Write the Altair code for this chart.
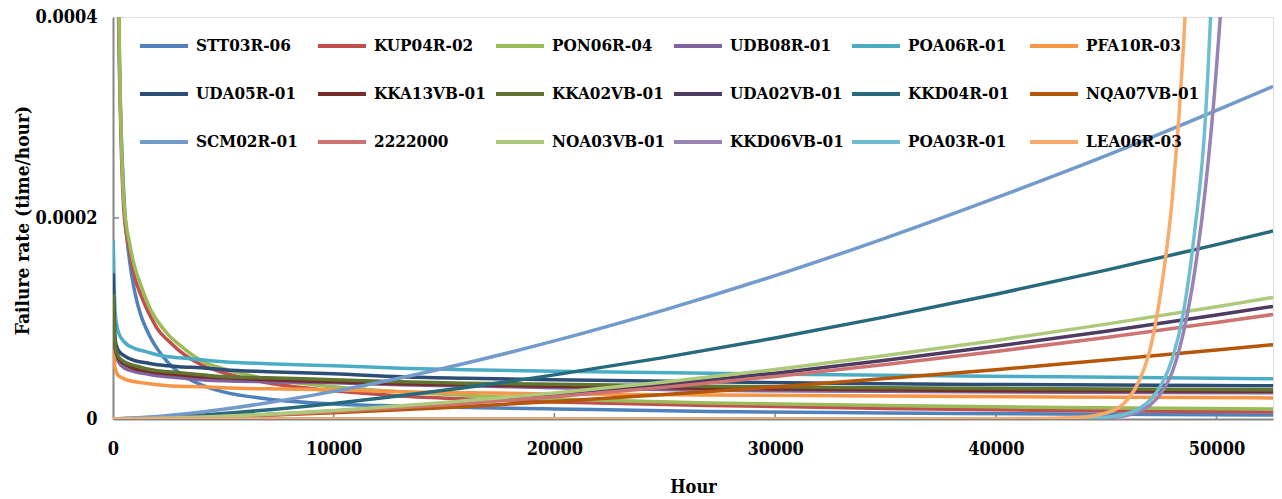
import altair as alt
import pandas as pd

# ---- data (failure rates, in units of 1e-6 per hour) ----
RATE_UNIT = 1e-6

NAMES = ["STT03R-06", "KUP04R-02", "PON06R-04", "UDB08R-01", "POA06R-01", "PFA10R-03",
         "UDA05R-01", "KKA13VB-01", "KKA02VB-01", "UDA02VB-01", "KKD04R-01", "NQA07VB-01",
         "SCM02R-01", "2222000", "NOA03VB-01", "KKD06VB-01", "POA03R-01", "LEA06R-03"]
COLORS = ["#4F81BD", "#C0504D", "#9BBB59", "#8064A2", "#4BACC6", "#F79646",
          "#2C4D75", "#772C2A", "#5F7530", "#4D3B62", "#276A7C", "#B65708",
          "#729ACA", "#CD7371", "#AFC97A", "#9983B5", "#6FBDD1", "#F9AB6B"]

# steeply decreasing curves (very high at start)
HOURS_EARLY = [10, 100, 250, 500, 750, 1000, 1250, 1500, 1750, 2000, 2500, 3000, 4000, 5000,
               7000, 10000, 13000, 16000, 20000, 27000, 35000, 43000, 52560]
STT03R_06 = [3000, 900, 400, 220, 158, 125, 104, 90, 79, 70, 56, 46, 34, 27,
             20, 15, 13, 11.5, 10, 7.5, 6, 5, 4]
KUP04R_02 = [3200, 900, 420, 205, 168, 140, 124, 111, 100, 90, 78, 68, 54, 46,
             36, 28, 23, 20, 17, 13.5, 10.5, 8.5, 7]
PON06R_04 = [3500, 950, 430, 215, 175, 150, 134, 119, 107, 98, 84, 74, 58, 50,
             40, 32, 27, 23.5, 20, 16, 13.5, 11.5, 10]

# gently decreasing curves
HOURS_DEC = [10, 100, 250, 500, 1000, 1500, 2000, 2500, 3000, 4000, 5000, 7000,
             10000, 13000, 16000, 20000, 27000, 35000, 43000, 52560]
UDB08R_01 = [115, 66, 57, 51, 47, 45, 43, 42, 41, 39, 38, 37, 36, 34, 33, 31, 28.5, 27.5, 26.5, 26]
POA06R_01 = [178, 105, 86, 77, 70, 67, 64, 62, 61, 59, 57, 55, 53, 50.5, 49, 47.5, 45.5, 43.5, 42, 40]
PFA10R_03 = [76, 50, 43, 40, 37, 35.5, 34, 33, 32.5, 32, 31, 30, 29, 27, 26, 25, 24, 23, 22, 21]
UDA05R_01 = [145, 78, 68, 63, 58, 56, 54, 53, 52, 51, 49, 47, 45, 42, 40.5, 39, 37, 35, 34, 33]
KKA13VB_01 = [120, 70, 60, 55, 50, 48, 46, 45, 44, 42, 41, 39, 37, 35, 34, 32.5, 30.5, 29, 28, 27.5]
KKA02VB_01 = [124, 72, 62, 57, 53, 50, 48, 47, 46, 44, 42, 41, 39, 37, 35.5, 34.5, 32.5, 31, 30, 29]

# increasing (wear-out) curves
HOURS_INC = [0, 2000, 5000, 10000, 15000, 20000, 25000, 30000, 35000, 40000, 45000, 50000, 52560]
SCM02R_01 = [0, 2.5, 9.7, 27.5, 50.5, 77.7, 108.6, 142.7, 180, 220, 262, 307, 331]
KKD04R_01 = [0, 1.4, 5.5, 15.5, 28.5, 43.9, 61.3, 80.6, 101.6, 124.2, 148.1, 173.5, 187]
NOA03VB_01 = [0, 0.65, 2.8, 8.5, 16.3, 25.8, 36.8, 49.3, 63.1, 78.2, 94.4, 111.7, 121]
UDA02VB_01 = [0, 0.6, 2.6, 7.9, 15.1, 23.9, 34.1, 45.6, 58.4, 72.4, 87.4, 103.4, 112]
S2222000 = [0, 0.56, 2.4, 7.3, 14.0, 22.2, 31.6, 42.4, 54.3, 67.2, 81.2, 96.0, 104]
NQA07VB_01 = [0, 0.55, 2.2, 6.1, 11.3, 17.4, 24.3, 31.9, 40.2, 49.1, 58.6, 68.7, 74]

# very steep late wear-out curves
HOURS_STEEP = [0, 20000, 35000, 40000, 42000, 43000, 44000, 45000, 46000, 46500, 47000,
               47500, 48000, 48500, 49000, 49500, 50000, 50500, 51000]
LEA06R_03 = [0, 0, 0.01, 0.2, 0.6, 1.1, 2, 6, 20, 38, 70, 130, 220, 370, 620, 1000, 1600, 2500, 4000]
POA03R_01 = [0, 0, 0, 0.05, 0.2, 0.3, 0.5, 1.7, 5.7, 10.5, 19, 34, 60, 106, 185, 300, 560, 1000, 1700]
KKD06VB_01 = [0, 0, 0, 0.03, 0.1, 0.2, 0.35, 1.2, 4, 7.5, 14, 26, 47, 86, 145, 230, 350, 530, 900]

X_TICKS = [0, 10000, 20000, 30000, 40000, 50000]
Y_TICKS = [0, 0.0002, 0.0004]
X_MAX = 52560
Y_MAX = 0.0004

SERIES = {
    "STT03R-06": (HOURS_EARLY, STT03R_06), "KUP04R-02": (HOURS_EARLY, KUP04R_02),
    "PON06R-04": (HOURS_EARLY, PON06R_04), "UDB08R-01": (HOURS_DEC, UDB08R_01),
    "POA06R-01": (HOURS_DEC, POA06R_01), "PFA10R-03": (HOURS_DEC, PFA10R_03),
    "UDA05R-01": (HOURS_DEC, UDA05R_01), "KKA13VB-01": (HOURS_DEC, KKA13VB_01),
    "KKA02VB-01": (HOURS_DEC, KKA02VB_01), "UDA02VB-01": (HOURS_INC, UDA02VB_01),
    "KKD04R-01": (HOURS_INC, KKD04R_01), "NQA07VB-01": (HOURS_INC, NQA07VB_01),
    "SCM02R-01": (HOURS_INC, SCM02R_01), "2222000": (HOURS_INC, S2222000),
    "NOA03VB-01": (HOURS_INC, NOA03VB_01), "KKD06VB-01": (HOURS_STEEP, KKD06VB_01),
    "POA03R-01": (HOURS_STEEP, POA03R_01), "LEA06R-03": (HOURS_STEEP, LEA06R_03),
}

rows = []
for order, name in enumerate(NAMES):
    hours, vals = SERIES[name]
    for h, v in zip(hours, vals):
        rows.append({"Hour": h, "Rate": v * RATE_UNIT, "Series": name, "k": order})
df = pd.DataFrame(rows)

FONT = "DejaVu Serif Condensed"
AXIS_GRAY = "#868686"

W, H = 1160, 402

x_scale = alt.Scale(domain=[0, X_MAX], nice=False, zero=True)
y_scale = alt.Scale(domain=[0, Y_MAX], nice=False)

lines = alt.Chart(df).mark_line(strokeWidth=3.5, clip=True, interpolate="monotone").encode(
    x=alt.X("Hour:Q", scale=x_scale,
            axis=alt.Axis(values=X_TICKS, format="d", labelFlush=False, ticks=False,
                          grid=False, domainColor=AXIS_GRAY, domainWidth=2,
                          labelFont=FONT, labelFontSize=18, labelFontWeight="bold",
                          labelColor="black", labelPadding=21,
                          title="Hour", titleFont=FONT, titleFontSize=18,
                          titleFontWeight="bold", titleColor="black",
                          titleY=68, titleBaseline="middle")),
    y=alt.Y("Rate:Q", scale=y_scale,
            axis=alt.Axis(values=Y_TICKS, labelExpr="datum.value == 0 ? '0' : format(datum.value, '.4f')",
                          ticks=False, grid=False, domainColor=AXIS_GRAY, domainWidth=2,
                          labelFont=FONT, labelFontSize=18, labelFontWeight="bold",
                          labelColor="black", labelPadding=16, labelFlush=False,
                          title="Failure rate (time/hour)", titleFont=FONT, titleFontSize=19,
                          titleFontWeight="bold", titleColor="black",
                          titleX=-91, titleY=203, titleBaseline="middle")),
    color=alt.Color("Series:N", sort=NAMES,
                    scale=alt.Scale(domain=NAMES, range=COLORS),
                    legend=alt.Legend(orient="none", legendX=25, legendY=3,
                                      direction="horizontal", columns=6, title=None,
                                      symbolType="stroke", symbolSize=2304,
                                      symbolStrokeWidth=4, labelFont=FONT,
                                      labelFontSize=17, labelFontWeight="bold",
                                      labelColor="black", labelOffset=6,
                                      columnPadding=0, rowPadding=14, padding=0,
                                      gridAlign="all", labelLimit=300)),
    order=alt.Order("Hour:Q"),
)

xt = pd.DataFrame({"t": X_TICKS[1:]})
yt = pd.DataFrame({"t": Y_TICKS[1:2]})
xticks = alt.Chart(xt).mark_rule(color=AXIS_GRAY, strokeWidth=1.5).encode(
    x=alt.X("t:Q", scale=x_scale), y=alt.value(H - 6), y2=alt.value(H))
yticks = alt.Chart(yt).mark_rule(color=AXIS_GRAY, strokeWidth=1.5).encode(
    y=alt.Y("t:Q", scale=y_scale), x=alt.value(0), x2=alt.value(6))

chart = alt.layer(xticks, yticks, lines).properties(
    width=W, height=H,
    autosize=alt.AutoSizeParams(type="none"),
    padding={"left": 113, "top": 17, "right": 9, "bottom": 80},
).configure_view(stroke=None).configure(background="white")

chart.save("out.html", embed_options={"renderer": "svg", "actions": False})
